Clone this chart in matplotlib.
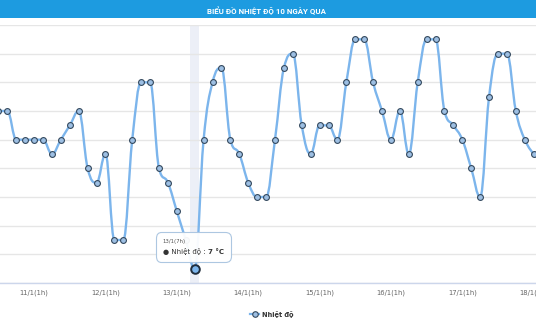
import matplotlib
matplotlib.use("Agg")
import matplotlib.pyplot as plt
from matplotlib.path import Path
from matplotlib.patches import PathPatch, Rectangle
from matplotlib.lines import Line2D
from matplotlib.offsetbox import TextArea, HPacker, VPacker, AnnotationBbox

# ---- data (3-hourly temperatures, °C) ----
temps = [18, 18, 16, 16, 16, 16, 15, 16, 17, 18,
         14, 13, 15, 9, 9, 16, 20, 20, 14, 13,
         11, 9, 7, 16, 20, 21, 16, 15, 13, 12,
         12, 16, 21, 22, 17, 15, 17, 17, 16, 20,
         23, 23, 20, 18, 16, 18, 15, 20, 23, 23,
         18, 17, 16, 14, 12, 19, 22, 22, 18, 16, 15]
tick_pos = [4, 12, 20, 28, 36, 44, 52, 60]
tick_labels = ["11/1(1h)", "12/1(1h)", "13/1(1h)", "14/1(1h)",
               "15/1(1h)", "16/1(1h)", "17/1(1h)", "18/1(1h)"]
series_name = "Nhiệt độ"
title = "BIỂU ĐỒ NHIỆT ĐỘ 10 NGÀY QUA"
hover_idx = 22
hover_label = "13/1(7h)"

LINE = "#7cb5ec"
MEDGE = "#34495e"
MFACE = "#9dbfe3"


def hc_spline(xs, ys, smoothing=1.5):
    denom = smoothing + 1
    n = len(xs)
    verts = [(xs[0], ys[0])]
    codes = [Path.MOVETO]
    rc = [None] * n
    for i in range(1, n):
        px, py = xs[i], ys[i]
        lx, ly = xs[i - 1], ys[i - 1]
        if i < n - 1:
            nx, ny = xs[i + 1], ys[i + 1]
            lcx = (smoothing * px + lx) / denom
            lcy = (smoothing * py + ly) / denom
            rcx = (smoothing * px + nx) / denom
            rcy = (smoothing * py + ny) / denom
            if rcx != lcx:
                corr = ((rcy - lcy) * (rcx - px)) / (rcx - lcx) + py - rcy
                lcy += corr
                rcy += corr
            if lcy > ly and lcy > py:
                lcy = max(ly, py); rcy = 2 * py - lcy
            elif lcy < ly and lcy < py:
                lcy = min(ly, py); rcy = 2 * py - lcy
            if rcy > ny and rcy > py:
                rcy = max(ny, py); lcy = 2 * py - rcy
            elif rcy < ny and rcy < py:
                rcy = min(ny, py); lcy = 2 * py - rcy
        else:
            lcx, lcy, rcx, rcy = px, py, px, py
        prev = rc[i - 1] if rc[i - 1] is not None else (lx, ly)
        verts += [prev, (lcx, lcy), (px, py)]
        codes += [Path.CURVE4] * 3
        rc[i] = (rcx, rcy)
    return Path(verts, codes)


W, H = 536, 322
fig = plt.figure(figsize=(W / 100, H / 100), dpi=100)
fig.patch.set_facecolor("white")

# title bar
fig.patches.append(Rectangle((0, 1 - 18 / H), 1, 18 / H, transform=fig.transFigure,
                             facecolor="#1d9be0", edgecolor="none", zorder=0))
fig.text(266 / W, 1 - 10.5 / H, title, ha="center", va="center", color="white",
         fontsize=5.7, fontweight="bold", family=["Roboto", "DejaVu Sans"])

ax = fig.add_axes([0, 1 - 283 / H, 1, (283 - 25) / H])
xs = list(range(len(temps)))
ax.set_xlim(0.175, 60.26)
ax.set_ylim(6, 24)

ax.axvspan(hover_idx - 0.5, hover_idx + 0.5, color="#eceff7", zorder=0.5, lw=0)

ax.set_yticks(range(6, 25, 2))
ax.yaxis.grid(True, color="#e6e6e6", lw=1)
ax.set_axisbelow(True)
ax.tick_params(axis="y", length=0, labelleft=False)
for s in ["left", "right", "top"]:
    ax.spines[s].set_visible(False)
ax.spines["bottom"].set_color("#ccd6eb")
ax.spines["bottom"].set_linewidth(1)

ax.set_xticks(tick_pos)
ax.set_xticklabels(tick_labels)
ax.tick_params(axis="x", length=0, pad=4.5, labelsize=4.9, labelcolor="#666666")

ax.add_patch(PathPatch(hc_spline(xs, temps), facecolor="none", edgecolor=LINE,
                       lw=1.7, zorder=2, capstyle="round", joinstyle="round"))
ax.plot(xs, temps, "o", ls="none", ms=4.2, mfc=MFACE, mec=MEDGE, mew=0.8, zorder=3)
ax.plot([hover_idx], [temps[hover_idx]], "o", ms=6.2, mfc=LINE, mec="#1f2d3d",
        mew=1.4, zorder=4)

# tooltip
t1 = TextArea(hover_label, textprops=dict(fontsize=3.9, color="#555555"))
t2a = TextArea("● " + series_name + " : ", textprops=dict(fontsize=5.0, color="#333333"))
t2b = TextArea(f"{temps[hover_idx]} °C", textprops=dict(fontsize=5.0, color="#333333",
                                                         fontweight="bold"))
row = HPacker(children=[t2a, t2b], pad=0, sep=0, align="baseline")
box = VPacker(children=[t1, row], pad=0, sep=2.8, align="left")
ab = AnnotationBbox(box, (hover_idx, temps[hover_idx]), xybox=(-1.0, 10.0),
                    xycoords="data", boxcoords="offset points", box_alignment=(0.5, 0),
                    frameon=True, pad=0.5,
                    bboxprops=dict(boxstyle="round,pad=0.5,rounding_size=0.4",
                                   fc="white", ec="#a9c4e0", lw=0.8, alpha=0.95),
                    zorder=6)
ax.add_artist(ab)

# legend
handle = Line2D([], [], color=LINE, lw=1.6, marker="o", ms=4.0, mfc=MFACE, mec=MEDGE,
                mew=0.8)
fig.legend(handles=[handle], labels=[series_name], loc="center",
           bbox_to_anchor=(272 / W, 1 - 314 / H), frameon=False, handlelength=1.3,
           handletextpad=0.5, prop=dict(size=4.8, weight="bold"),
           labelcolor="#333333")

fig.savefig("out.png", dpi=100)
